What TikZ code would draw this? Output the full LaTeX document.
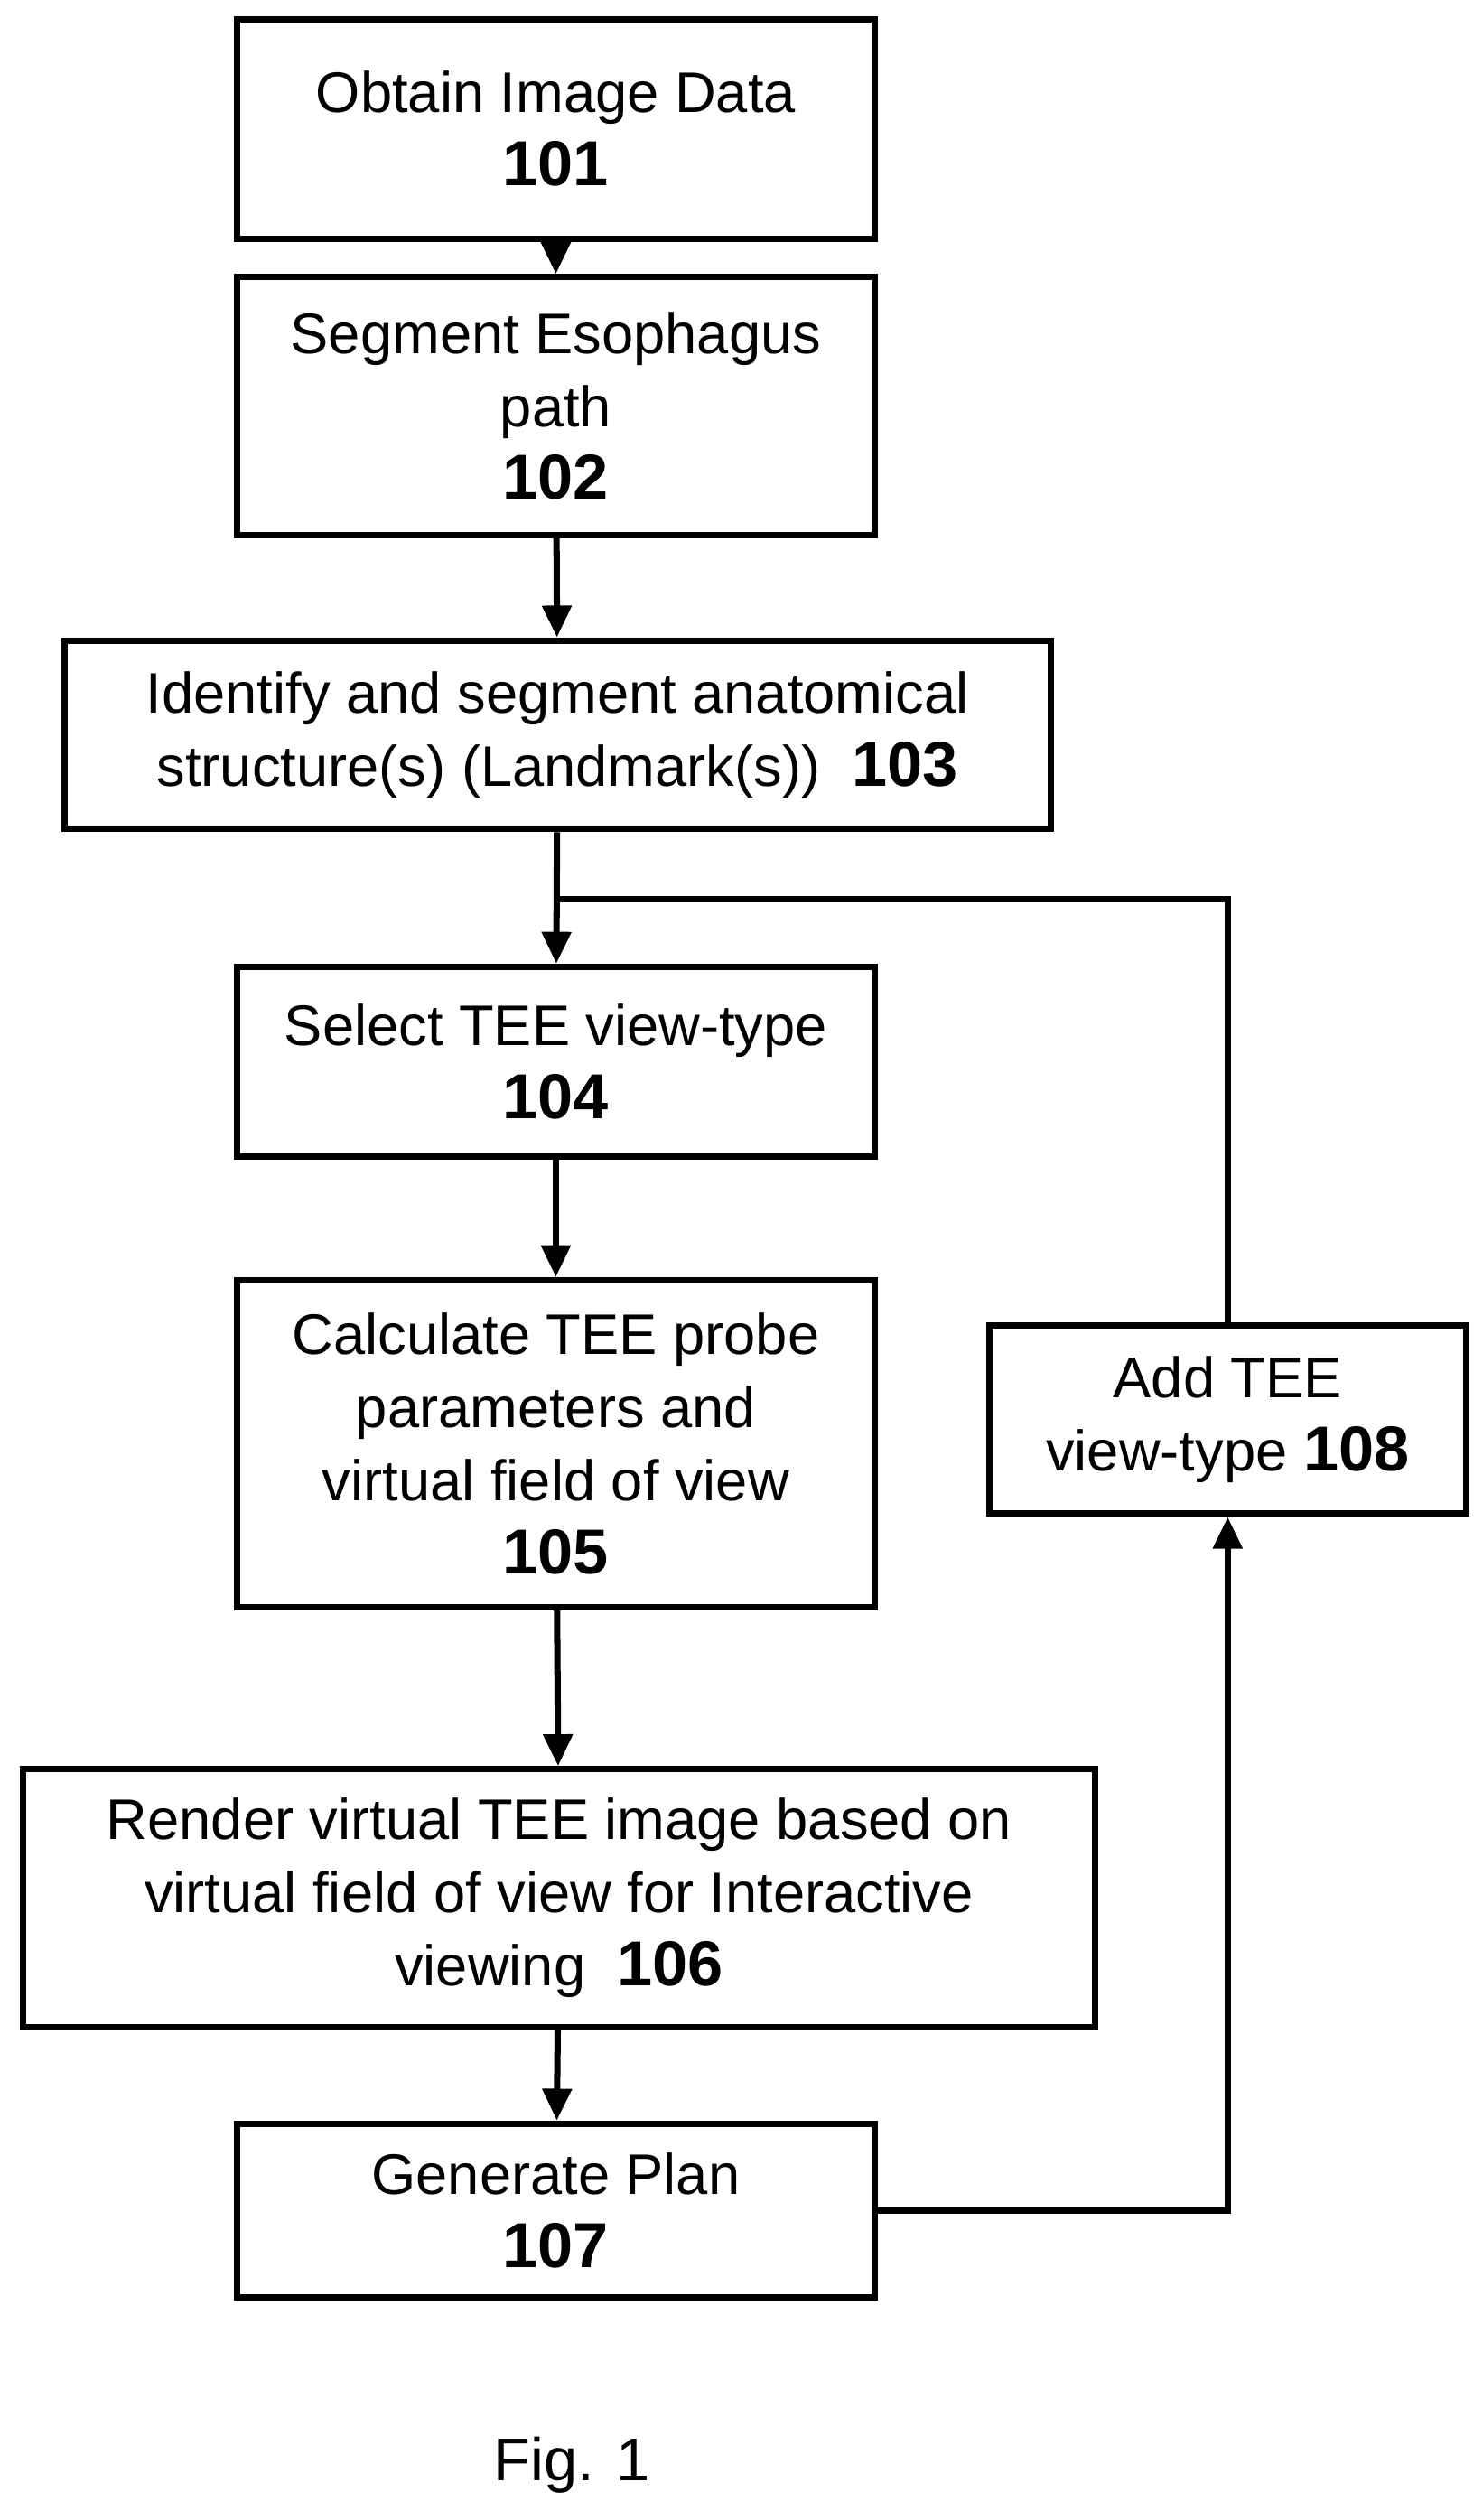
\documentclass[tikz,border=0pt]{standalone}
\usepackage{fontspec}
\setmainfont{Liberation Sans}
\usetikzlibrary{arrows.meta}
\newcommand{\num}[1]{{\fontsize{20}{22}\selectfont\textbf{#1}}}
\begin{document}
\begin{tikzpicture}[x=0.01784cm,y=-0.01784cm,
  box/.style={draw,line width=2pt,align=center,inner sep=0pt,font=\fontsize{18}{23}\selectfont},
  arr/.style={line width=2pt,-{Triangle[length=10pt,width=9pt]}}]
\useasboundingbox (0,0) rectangle (920,1564);
\node[box,minimum width=396*0.01784cm,minimum height=136*0.01784cm] (n101) at (345,80) {Obtain Image Data\\\num{101}};
\node[box,minimum width=396*0.01784cm,minimum height=160*0.01784cm] (n102) at (345,252) {Segment Esophagus\\path\\\num{102}};
\node[box,minimum width=612*0.01784cm,minimum height=117*0.01784cm] (n103) at (346,456) {Identify and segment anatomical\\structure(s) (Landmark(s))\ \ \num{103}};
\node[box,minimum width=396*0.01784cm,minimum height=118*0.01784cm] (n104) at (345,659) {Select TEE view-type\\\num{104}};
\node[box,minimum width=396*0.01784cm,minimum height=203*0.01784cm] (n105) at (345,896) {Calculate TEE probe\\parameters and\\virtual field of view\\\num{105}};
\node[box,minimum width=665*0.01784cm,minimum height=160*0.01784cm] (n106) at (347,1178) {Render virtual TEE image based on\\virtual field of view for Interactive\\viewing\ \ \num{106}};
\node[box,minimum width=396*0.01784cm,minimum height=108*0.01784cm] (n107) at (345,1372) {Generate Plan\\\num{107}};
\node[box,minimum width=296*0.01784cm,minimum height=117*0.01784cm] (n108) at (762,881) {Add TEE\\view-type \num{108}};
\node[font=\fontsize{19}{22}\selectfont] (fig) at (355,1530) {Fig. 1};
\coordinate (j) at (345,558);
\draw[arr] (n101) -- (n102);
\draw[arr] (n102) -- (n103);
\draw[arr] (n103) -- (n104);
\draw[arr] (n104) -- (n105);
\draw[arr] (n105) -- (n106);
\draw[arr] (n106) -- (n107);
\draw[arr] (n107.east) -| (n108.south);
\draw[line width=2pt] (n108.north) |- (j);
\end{tikzpicture}
\end{document}
